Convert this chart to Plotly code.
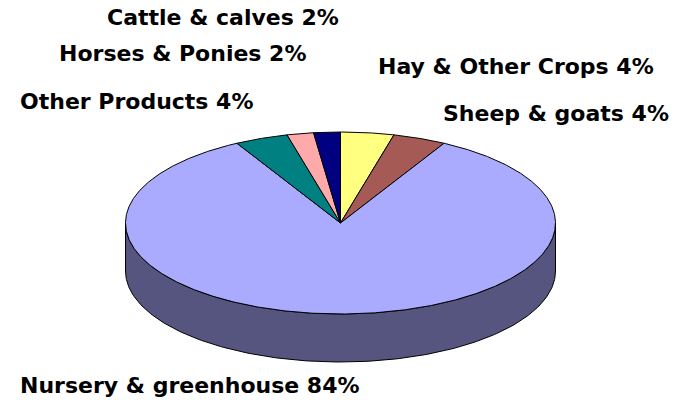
import numpy as np
import plotly.graph_objects as go

# Data (clockwise from 12 o'clock)
categories = ["Hay & Other Crops", "Sheep & goats", "Nursery & greenhouse",
              "Other Products", "Horses & Ponies", "Cattle & calves"]
percents = [4, 4, 84, 4, 2, 2]
top_colors = ["#FFFF80", "#A65A55", "#AAAAFF", "#008080", "#FFAAAA", "#000080"]
side_colors = ["#80803F", "#532D2A", "#55557F", "#004040", "#805555", "#000040"]

# label placement (pixel centers)
label_pos = {
    "Hay & Other Crops": (516, 66),
    "Sheep & goats": (556, 113),
    "Nursery & greenhouse": (190, 385),
    "Other Products": (136, 101),
    "Horses & Ponies": (182, 53),
    "Cattle & calves": (223, 17),
}

W, H = 681, 400
cx, cy, rx, ry, depth = 340.5, 223.0, 215.0, 91.0, 48.0


def pt(theta_deg, dy=0.0):
    t = np.radians(theta_deg)
    return cx + rx * np.sin(t), cy - ry * np.cos(t) + dy


fig = go.Figure()

total = sum(percents)
bounds = np.concatenate([[0], np.cumsum(percents) / total * 360.0])

# side walls (front half: 90..270 deg)
for i in range(len(percents)):
    a0, a1 = bounds[i], bounds[i + 1]
    s0, s1 = max(a0, 90), min(a1, 270)
    if s1 <= s0:
        continue
    th = np.linspace(s0, s1, 200)
    xs_t, ys_t = pt(th)
    xs_b, ys_b = pt(th[::-1], depth)
    xs = np.concatenate([xs_t, xs_b, xs_t[:1]])
    ys = np.concatenate([ys_t, ys_b, ys_t[:1]])
    fig.add_trace(go.Scatter(x=xs, y=ys, mode="lines", fill="toself",
                             fillcolor=side_colors[i],
                             line=dict(color="black", width=1),
                             hoverinfo="skip", showlegend=False))

# top faces
for i in range(len(percents)):
    a0, a1 = bounds[i], bounds[i + 1]
    th = np.linspace(a0, a1, max(10, int((a1 - a0) * 3)))
    xs_a, ys_a = pt(th)
    xs = np.concatenate([[cx], xs_a, [cx]])
    ys = np.concatenate([[cy], ys_a, [cy]])
    fig.add_trace(go.Scatter(x=xs, y=ys, mode="lines", fill="toself",
                             fillcolor=top_colors[i],
                             line=dict(color="black", width=1),
                             hoverinfo="text", text=f"{categories[i]} {percents[i]}%",
                             showlegend=False))

for name, pct in zip(categories, percents):
    x, y = label_pos[name]
    fig.add_annotation(x=x, y=y, text=f"<b>{name} {pct}%</b>", showarrow=False,
                       xanchor="center", yanchor="middle",
                       font=dict(family="DejaVu Sans", size=22, color="black"))

fig.update_layout(
    width=W, height=H, autosize=False,
    margin=dict(l=0, r=0, t=0, b=0),
    paper_bgcolor="white", plot_bgcolor="white",
    xaxis=dict(range=[0, W], visible=False, fixedrange=True),
    yaxis=dict(range=[H, 0], visible=False, fixedrange=True),
)

fig.write_html("out.html", config={"displayModeBar": False},
               post_script="document.body.style.margin='0';document.body.style.overflow='hidden';")
